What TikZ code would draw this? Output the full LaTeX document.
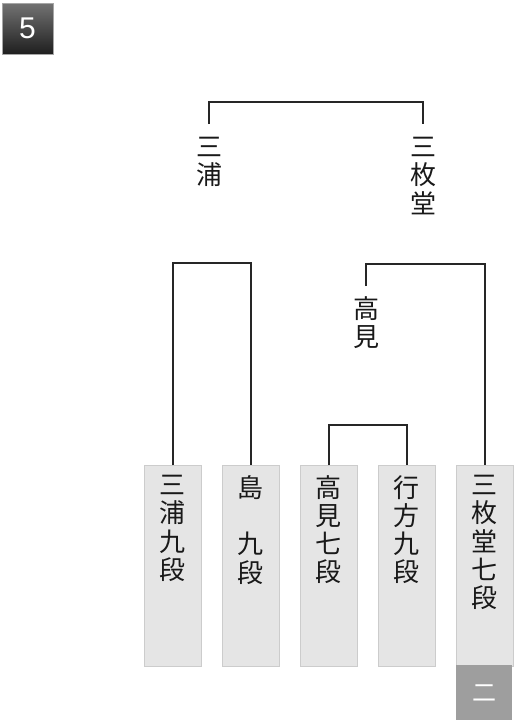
\documentclass[tikz,border=0pt]{standalone}
\usepackage{fontspec}
\newfontfamily\cjk{Noto Sans CJK JP}
\newfontfamily\lsans{Liberation Sans}
\begin{document}
\begin{tikzpicture}[x=1pt,y=-1pt,
  conn/.style={draw=black!85, line width=1.4pt},
  entry/.style={draw=black!20, fill=black!10, minimum width=57pt, minimum height=201pt, inner sep=0pt, anchor=north west, line width=0.8pt},
  vtext/.style={font=\cjk\fontsize{26}{28.3}\selectfont, align=center, inner sep=0pt, anchor=north, text=black!90},
  badge/.style={shading=axis, top color=black!55, bottom color=black!88, draw=black!35, minimum width=51pt, minimum height=51pt, inner sep=0pt, text=white, font=\lsans\fontsize{30}{30}\selectfont},
  result/.style={fill=black!38, minimum width=56pt, minimum height=55pt, inner sep=0pt, anchor=north west, text=white, font=\cjk\fontsize{24}{24}\selectfont},
]
\useasboundingbox (0,0) rectangle (524,724);

\node[badge] (badge) at (27.5,28.5) {5};

% entry boxes
\node[entry] (b1) at (144,465) {};
\node[entry] (b2) at (222,465) {};
\node[entry] (b3) at (300,465) {};
\node[entry] (b4) at (378,465) {};
\node[entry] (b5) at (456,465) {};
\node[result] (r5) at (456,665) {二};

% entry names
\node[vtext] (t1) at (172.5,475) {三\\浦\\九\\段};
\node[vtext] (t2) at (250.5,475) {島\\　\\九\\段};
\node[vtext] (t3) at (328.5,475) {高\\見\\七\\段};
\node[vtext] (t4) at (406.5,475) {行\\方\\九\\段};
\node[vtext] (t5) at (484.5,475) {三\\枚\\堂\\七\\段};

% winners
\node[vtext] (w2) at (366,296) {高\\見};
\node[vtext] (f1) at (209,137) {三\\浦};
\node[vtext] (f2) at (423,137) {三\\枚\\堂};

\coordinate (w2top) at (366,286);
\coordinate (f1top) at (209,124);
\coordinate (f2top) at (423,124);

% brackets
\coordinate (m1) at (210,263);
\coordinate (m2) at (368,425);
\coordinate (m3) at (425,264);
\coordinate (m4) at (316,102);

\draw[conn] (b1.north) |- (m1) -| (b2.north);
\draw[conn] (b3.north) |- (m2) -| (b4.north);
\draw[conn] (w2top) |- (m3) -| (b5.north);
\draw[conn] (f1top) |- (m4) -| (f2top);
\end{tikzpicture}
\end{document}
